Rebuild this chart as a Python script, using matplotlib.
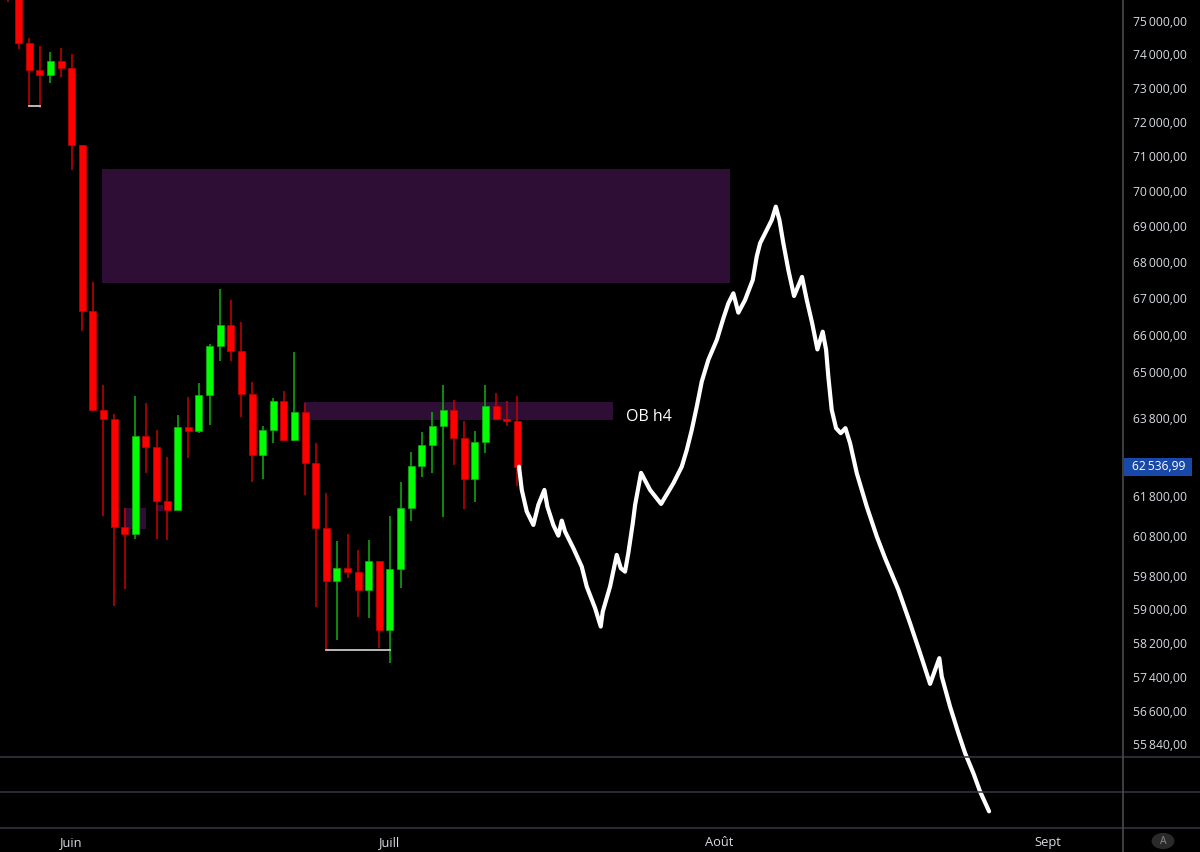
"""Daily candles with order-block zones and a hand-drawn projection path."""

import matplotlib
matplotlib.use("Agg")
import matplotlib.dates as mdates
import matplotlib.pyplot as plt
import matplotlib.ticker as mticker
import matplotlib.transforms as mtransforms
import numpy as np
import pandas as pd
from matplotlib.lines import Line2D
from matplotlib.patches import Rectangle, Circle

plt.rcParams["font.family"] = ["Open Sans", "DejaVu Sans"]

START = "2024-05-26"

# daily OHLC
opens = [77000, 76100, 74345, 73530, 73380, 73800, 73600, 71313, 66641, 64010,
         63775, 61020, 60846, 63319, 63053, 61672, 61450, 63567, 63464, 64396,
         65703, 66262, 65572, 64414, 62844, 63481, 64238, 63216, 63941, 62639,
         60980, 59695, 60004, 59913, 59464, 60165, 58513, 59972, 61491, 62554,
         63096, 63586, 64002, 63282, 62225, 63179, 64114, 63759, 63724]
highs = [77400, 76300, 74506, 74254, 74063, 74202, 74012, 71313, 67428, 64659,
         63898, 61499, 64369, 64196, 63481, 62789, 63864, 64350, 64711, 65750,
         67244, 66942, 66351, 64730, 63586, 64324, 64508, 65545, 64196, 63147,
         61862, 60672, 60839, 60447, 60696, 60180, 61287, 62141, 62916, 63436,
         63941, 64667, 64264, 63715, 63464, 64667, 64456, 64238, 64377]
lows = [75600, 74160, 72457, 72406, 73150, 73311, 70589, 66107, 64000, 61287,
        59090, 59489, 60729, 62385, 60729, 60704, 61440, 62764, 63404, 63611,
        65287, 65298, 63827, 62156, 62225, 63133, 63197, 63200, 61819, 59051,
        58031, 58261, 59752, 58824, 58800, 58085, 57731, 59527, 61170, 62287,
        62385, 61270, 62588, 61475, 61654, 62888, 63750, 63593, 62048]
closes = [76100, 74345, 73530, 73380, 73800, 73600, 71313, 66641, 64010, 63775,
          61020, 60846, 63319, 63053, 61672, 61450, 63567, 63464, 64396, 65703,
          66262, 65572, 64414, 62844, 63481, 64238, 63216, 63941, 62639, 60980,
          59695, 60004, 59913, 59464, 60165, 58513, 59972, 61491, 62554, 63096,
          63586, 64002, 63282, 62225, 63179, 64114, 63759, 63724, 62536.99]

# projection drawing: days after START, price
proj_day = [48.16, 48.42, 48.89, 49.51, 49.98, 50.55, 50.83, 51.39, 51.87, 52.19,
            52.50, 53.28, 54.07, 54.54, 55.33, 55.86, 56.05, 56.74, 57.37, 57.75,
            58.15, 58.46, 58.88, 59.10, 59.66, 60.51, 61.55, 62.71, 63.50, 63.97,
            64.44, 64.91, 65.38, 66.00, 66.80, 67.42, 67.89, 68.36, 68.83, 69.46,
            70.19, 70.56, 70.88, 71.51, 71.98, 72.36, 72.70, 73.07, 73.54, 74.08,
            74.83, 75.28, 75.78, 76.28, 76.78, 77.10, 77.31, 77.63, 78.04, 78.48,
            78.92, 79.36, 79.99, 80.93, 81.88, 82.66, 83.91, 85.01, 85.96, 86.90,
            87.77, 88.00, 88.78, 89.57, 90.20, 90.98, 91.61, 92.46]
proj_price = [62537, 61947, 61402, 61068, 61570, 61947, 61528, 61068, 60802, 61176,
              60901, 60491, 60037, 59551, 59027, 58587, 58945, 59551, 60326, 59998,
              59915, 60368, 61111, 61570, 62380, 61947, 61595, 62117, 62541, 62967,
              63484, 64089, 64747, 65324, 65858, 66444, 66851, 67124, 66596, 66940,
              67492, 68137, 68511, 68883, 69164, 69541, 69164, 68511, 67768, 67050,
              67575, 66940, 66317, 65604, 66081, 65591, 64879, 64003, 63528, 63399,
              63528, 63140, 62372, 61528, 60778, 60244, 59471, 58668, 57953, 57232,
              57836, 57404, 56704, 56090, 55636, 55183, 54771, 54330]

# zones: (start day, end day, low, high)
zones = [(8.89, 68.05, 67408, 70609),
         (27.9, 57.0, 63742, 64220),
         (10.96, 13.0, 60970, 61491),
         (13.95, 14.64, 61418, 61572)]
# short level lines: (start day, end day, price)
levels = [(2.0, 3.0, 72460), (30.0, 36.0, 58031)]

price_ticks = [75000, 74000, 73000, 72000, 71000, 70000, 69000, 68000, 67000,
               66000, 65000, 63800, 61800, 60800, 59800, 59000, 58200, 57400,
               56600, 55840]
last_price = closes[-1]
month_names = {6: "Juin", 7: "Juill", 8: "Août", 9: "Sept"}

BG = "#000000"
UP, DOWN = "#00ff00", "#ff0000"
UP_W, DOWN_W = "#12b012", "#c80000"
ZONE = "#2f0e36"
TXT = "#d8dbe2"
SEP = "#363945"


def fmt_price(v):
    s = f"{v:,.2f}"
    return s.replace(",", "\u2009").replace(".", ",")


fig = plt.figure(figsize=(12, 8.52), dpi=100, facecolor=BG)
ax = fig.add_axes([0, 24.5 / 852, 1123 / 1200, 827.5 / 852])
ax.set_facecolor(BG)

t0 = mdates.date2num(pd.Timestamp(START))
dates = pd.date_range(START, periods=len(opens), freq="D")
x = mdates.date2num(dates)
o, h, l, c = map(np.asarray, (opens, highs, lows, closes))
up = c >= o

for (d0, d1, lo, hi) in zones:
    ax.add_patch(Rectangle((t0 + d0, lo), d1 - d0, hi - lo,
                           facecolor=ZONE, edgecolor="none", zorder=1))

ax.vlines(x[up], l[up], h[up], color=UP_W, lw=1.1, zorder=2)
ax.vlines(x[~up], l[~up], h[~up], color=DOWN_W, lw=1.1, zorder=2)
body_lo = np.minimum(o, c)
body_h = np.maximum(np.abs(c - o), 20)
ax.bar(x[up], body_h[up], 0.66, bottom=body_lo[up], color=UP,
       edgecolor=UP_W, linewidth=0.5, zorder=3)
ax.bar(x[~up], body_h[~up], 0.66, bottom=body_lo[~up], color=DOWN,
       edgecolor=DOWN_W, linewidth=0.5, zorder=3)

for (d0, d1, p) in levels:
    ax.plot([t0 + d0, t0 + d1], [p, p], color="#c8c8c8", lw=1.3, zorder=4)

ax.plot(t0 + np.asarray(proj_day), proj_price, color="white", lw=3,
        solid_joinstyle="round", solid_capstyle="round", zorder=6)

ax.text(t0 + 58.25, 63808, "OB h4", color="white", fontsize=11.5,
        va="center", ha="left", zorder=7)

# scales
ax.set_yscale("log")
ax.set_ylim(53973, 75661)
ax.set_xlim(t0 - 0.754, t0 + 105.08)

ax.yaxis.tick_right()
ax.yaxis.set_major_locator(mticker.FixedLocator(price_ticks))
ax.yaxis.set_major_formatter(mticker.FuncFormatter(lambda v, _: fmt_price(v)))
ax.yaxis.set_minor_locator(mticker.NullLocator())
ax.tick_params(axis="y", length=0, pad=7, labelsize=8.7, labelcolor=TXT)

ax.xaxis.set_major_locator(mdates.MonthLocator())
ax.xaxis.set_major_formatter(mticker.FuncFormatter(
    lambda v, _: month_names.get(mdates.num2date(v).month, "")))
ax.xaxis.set_minor_locator(mticker.NullLocator())
ax.tick_params(axis="x", length=0, pad=6, labelsize=9.3, labelcolor=TXT)

for side in ("top", "left", "right", "bottom"):
    ax.spines[side].set_visible(False)

# last price label
trans = mtransforms.blended_transform_factory(ax.transAxes, ax.transData)
k = np.exp(9 / 2450)
ax.add_patch(Rectangle((1.0008, last_price / k), 68 / 1123, last_price * k - last_price / k,
                       transform=trans, facecolor="#1848a8", edgecolor="none",
                       clip_on=False, zorder=8))
ax.text(1 + 9 / 1123, last_price, fmt_price(last_price), transform=trans,
        color="white", fontsize=8.7, va="center", ha="left", zorder=9)

# pane separators and axis borders
for yp in (756.5, 792, 827.5):
    fig.add_artist(Line2D([0, 1], [1 - yp / 852] * 2, transform=fig.transFigure,
                          color=SEP, lw=1.1))
fig.add_artist(Line2D([1123 / 1200] * 2, [0, 1], transform=fig.transFigure,
                      color="#4a4a4a", lw=1.2))

# auto-scale badge
fig.add_artist(Circle((1163 / 1200, 1 - 841 / 852), 0.0095, transform=fig.transFigure,
                      facecolor="#2a2a2a", edgecolor="none"))
fig.text(1163 / 1200, 1 - 841 / 852, "A", color="#8a8a8a", fontsize=7.5,
         ha="center", va="center")

fig.savefig("out.png", dpi=100, facecolor=BG)
